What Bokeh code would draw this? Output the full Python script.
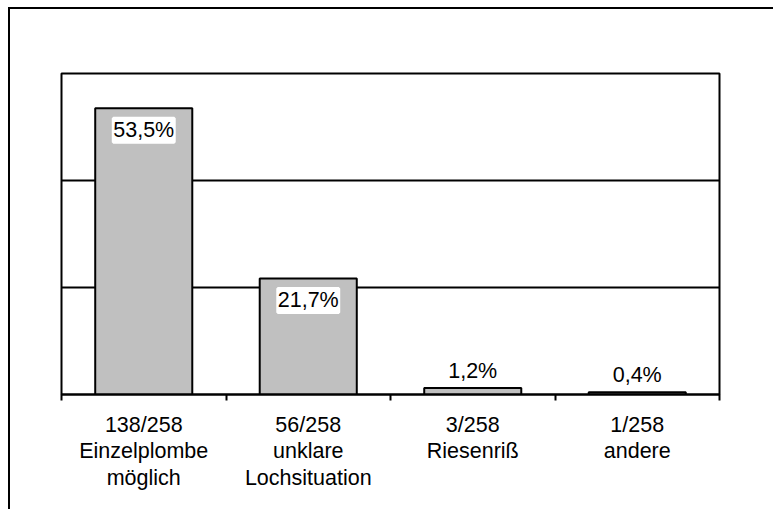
from bokeh.plotting import figure
from bokeh.models import ColumnDataSource, FixedTicker, LabelSet, Range1d
from bokeh.core.properties import value
from bokeh.embed import file_html
from bokeh.resources import INLINE

# Data
counts = ["138/258", "56/258", "3/258", "1/258"]
names = ["Einzelplombe\nmöglich", "unklare\nLochsituation", "Riesenriß", "andere"]
percent = [53.5, 21.7, 1.2, 0.4]

FONT = "Liberation Sans"
FSIZE = "21.5px"

xs = [i + 0.5 for i in range(len(percent))]
labels = [f"{v:.1f}%".replace(".", ",") for v in percent]

p = figure(width=765, height=502, output_backend="svg", toolbar_location=None,
           x_range=Range1d(0, len(percent)), y_range=Range1d(0, 60),
           min_border_left=51, min_border_right=56, min_border_top=64, min_border_bottom=117)
p.styles = {"margin-left": "8px", "margin-top": "7px",
            "border-left": "2px solid black", "border-top": "2px solid black"}

p.outline_line_color = "black"
p.outline_line_width = 2
p.background_fill_color = "white"
p.border_fill_color = "white"

src = ColumnDataSource(dict(x=xs, top=percent, label=labels))
p.vbar(x="x", top="top", width=0.59, source=src,
       fill_color="#C0C0C0", line_color="black", line_width=2)

# value labels: inside the tall bars, above the short ones
inside = [i for i, v in enumerate(percent) if v >= 10]
outside = [i for i, v in enumerate(percent) if v < 10]
src_in = ColumnDataSource(dict(x=[xs[i] for i in inside], y=[percent[i] for i in inside],
                               label=[labels[i] for i in inside]))
src_out = ColumnDataSource(dict(x=[xs[i] for i in outside], y=[percent[i] for i in outside],
                                label=[labels[i] for i in outside]))
p.add_layout(LabelSet(x="x", y="y", text="label", source=src_in, y_offset=-10,
                      text_align="center", text_baseline="top", text_font=value(FONT),
                      text_font_size=value(FSIZE), text_color="black",
                      background_fill_color="white",
                      border_line_color="white", border_line_width=3))
p.add_layout(LabelSet(x="x", y="y", text="label", source=src_out, y_offset=5,
                      text_align="center", text_baseline="bottom", text_font=value(FONT),
                      text_font_size=value(FSIZE), text_color="black"))

# axes
p.yaxis.visible = False
p.xgrid.visible = False
p.ygrid.ticker = FixedTicker(ticks=[20, 40, 60])
p.ygrid.grid_line_color = "black"
p.ygrid.grid_line_width = 2

xa = p.xaxis[0]
xa.ticker = FixedTicker(ticks=xs, minor_ticks=list(range(len(percent) + 1)))
xa.major_label_overrides = {x: f"{c}\n{n}" for x, c, n in zip(xs, counts, names)}
xa.major_tick_out = 0
xa.major_tick_in = 0
xa.minor_tick_out = 6
xa.minor_tick_in = 0
xa.minor_tick_line_color = "black"
xa.minor_tick_line_width = 2
xa.axis_line_color = "black"
xa.axis_line_width = 2
xa.major_label_standoff = 12
xa.major_label_text_font = FONT
xa.major_label_text_font_size = FSIZE
xa.major_label_text_color = "black"
xa.major_label_text_line_height = 1.12

open("out.html", "w").write(file_html(p, INLINE))
